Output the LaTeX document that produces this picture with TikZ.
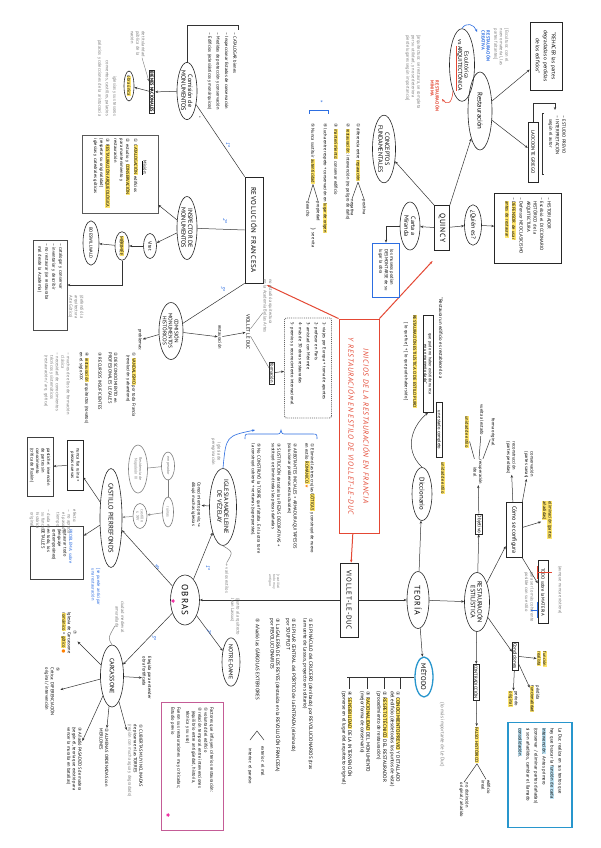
\documentclass[tikz,border=0pt]{standalone}
\usepackage{fontspec}
\setmainfont{PT Sans}
\newfontfamily\cnfont{DejaVu Sans}
\usepackage{xcolor}
\usetikzlibrary{arrows.meta,shapes.geometric}

\definecolor{hly}{RGB}{255,230,110}
\definecolor{hlc}{RGB}{190,228,245}
\definecolor{redt}{RGB}{228,72,52}
\definecolor{bluet}{RGB}{45,110,225}
\definecolor{pinkb}{RGB}{196,92,150}
\definecolor{cyanb}{RGB}{40,150,205}
\definecolor{grayt}{RGB}{125,125,125}

\newcommand{\cnum}[1]{{\cnfont #1}}
\newcommand{\hlt}[1]{{\setlength{\fboxsep}{0.3pt}\colorbox{hly}{#1}}}
\newcommand{\hlc}[1]{{\setlength{\fboxsep}{0.3pt}\colorbox{hlc}{#1}}}
\newcommand{\wide}{\addfontfeature{LetterSpace=10}}

\tikzset{
  ov/.style={draw=black!85, ellipse, line width=0.6pt, align=center, inner sep=0pt, font=\fontsize{6.2}{6.8}\selectfont},
  bx/.style={draw=black!85, line width=0.6pt, align=center, inner sep=1pt, font=\fontsize{5}{6}\selectfont},
  tx/.style={align=left, inner sep=0.5pt, font=\fontsize{4.5}{5.5}\selectfont},
  gr/.style={tx, text=grayt},
  num/.style={text=bluet, font=\fontsize{5.5}{6}\selectfont\itshape},
  ln/.style={line width=0.5pt, draw=black!80},
  ar/.style={ln, ->},
  pstar/.style={star, star points=5, fill=magenta!80, inner sep=0.9pt},
}

\begin{document}
\begin{tikzpicture}[x=1pt,y=-1pt,>={Stealth[length=3pt,width=2.4pt]},every node/.style={rotate=-90}]
  \fill[white] (0,0) rectangle (600,848);
  \useasboundingbox (0,0) rectangle (600,848);

  % titulo central
  \node[draw=redt, line width=0.9pt, text=redt, align=center, minimum width=214, minimum height=40,
    font=\fontsize{7.4}{15}\selectfont\itshape\wide] (title) at (359,426)
    {INICIOS DE LA RESTAURACIÓN EN FRANCIA\\Y RESTAURACIÓN EN ESTILO DE VIOLLET-LE-DUC};
  \node[bx, minimum width=74, minimum height=18, font=\fontsize{7}{8}\selectfont\wide] (vld) at (349,600) {VIOLLET-LE-DUC};
  \node[bx, minimum width=106, minimum height=18, font=\fontsize{7}{8}\selectfont\wide] (revo) at (254,230) {REVOLUCIÓN FRANCESA};
  \node[bx, minimum width=45, minimum height=15, font=\fontsize{7.5}{8}\selectfont\wide] (quin) at (442,228) {QUINCY};
  \draw[redt, line width=1pt, ->] (title) -- (vld);
  \draw[redt, line width=1pt, ->, shorten >=4pt] (title.south west) -- (revo.north east);
  \draw[redt, line width=1pt, ->, shorten >=14pt] (title.north west) -- (quin.east);

  % obras y teoria
  \node[ov, minimum width=50, minimum height=29, font=\fontsize{9}{9}\selectfont\wide] (obras) at (185,600) {OBRAS};
  \node[pstar] (obstar) at (173,601) {};
  \node[ov, minimum width=57, minimum height=22, font=\fontsize{8}{8}\selectfont\wide] (teoria) at (418,600) {TEORÍA};
  \draw[ar] (vld) -- (obras);
  \draw[ar] (vld) -- (teoria);

  % teoria
  \node[ov, minimum width=53, minimum height=20, font=\fontsize{6.8}{7}\selectfont] (dicc) at (422,494) {Diccionario};
  \node[ov, minimum width=55, minimum height=25] (resti) at (477,602) {RESTAURACIÓN\\ESTILÍSTICA};
  \node[ov, draw=cyanb, line width=1.3pt, minimum width=40, minimum height=18, font=\fontsize{6.8}{7}\selectfont] (metodo) at (424,677) {MÉTODO};
  \draw[ar] (teoria) -- (dicc);
  \draw[ar] (teoria) -- (resti);
  \draw[ar] (teoria) -- (metodo);
  \node[gr, font=\fontsize{5}{6}\selectfont] (gmas) at (442,735) {(lo más importante de Le Duc)};

  % definicion del diccionario
  \node[tx, anchor=west, font=\fontsize{4.8}{5.5}\selectfont] (defq) at (441,297) {“Restaurar un edificio es restablecerlo a};
  \node[bx, minimum width=55, font=\fontsize{4.6}{5.2}\selectfont] (defb2) at (439,430) {un estado completo};
  \node[bx, minimum width=97, font=\fontsize{4.2}{4.8}\selectfont] (defb) at (428,364) {que pudo no haber existido nunca\\en un momento dado”};
  \node[tx, anchor=west] (dest) at (415,314) {\hlt{RESTAURACIÓN ESTILÍSTICA O DE ESTILO PURO}};
  \node[tx, anchor=west] (dfue) at (406,322) {[ lo que fue ] + [ lo que pudo haber sido ]};
  \node[tx] (duni) at (443,478) {\hlt{unidad de estilo}};
  \draw[ar] (dicc.west) .. controls (402,448) and (414,424) .. (defb.east);

  % restauracion estilistica
  \node[bx] (obj) at (479,524) {Objetivo};
  \node[tx, align=center] (ideal) at (478,472) {recuperación\\ideal};
  \node[tx] (iuni) at (467,432) {\hlt{unidad de estilo}};
  \node[tx] (ivue) at (482,420) {vuelta al estado};
  \node[tx] (iori) at (493,432) {forma original};
  \draw[ar] (resti) -- (obj);
  \draw[ar] (obj) -- (ideal);
  \draw[ln] (ideal) -- (iuni);
  \draw[ln] (ideal) -- (ivue);
  \draw[ln] (ideal) -- (iori);

  \node[bx, minimum width=55, minimum height=16, font=\fontsize{6}{6}\selectfont] (como) at (514,530) {Cómo se configura};
  \node[tx] (crec) at (511,458) {reconstrucción\\(partes perdidas)};
  \node[tx] (ccon) at (529,465) {conservación\\(partes sanas)};
  \node[tx] (celi) at (547,520) {\hlt{eliminación (partes}\\\hlt{añadidas)}};
  \node[bx, minimum width=63, minimum height=10, font=\fontsize{4.6}{5}\selectfont] (mat) at (543,592) {TODO sobre la MATERIA};
  \node[gr] (gnun) at (560,590) {(aunque nunca existiera)};
  \node[gr] (gcoh) at (529,597) {para ser lo más coherente\\posible con su estilo};
  \draw[ar] (resti) -- (como);
  \draw[ar] (como) -- (crec);
  \draw[ar] (como.north west) -- (ccon);
  \draw[ar] (como) -- (celi);
  \draw[ar] (como.north east) -- (mat);
  \draw[redt, line width=0.7pt] (537,566) -- (537,579) (537,572) -- (552,572);
  \draw[bluet, line width=0.7pt] (537,602) -- (537,618) (537,610) -- (531,610);

  \node[bx] (cond) at (515,656) {Condiciones};
  \node[tx] (cfun) at (542,659) {\hlt{función}\\\hlt{realista}};
  \node[tx] (cper) at (513,699) {período\\\hlt{original}};
  \node[tx] (cpro) at (535,699) {pérdida\\\hlt{funcionalidad}};
  \draw[ar] (resti) -- (cond);
  \draw[ar] (cond) -- (cfun);
  \draw[ar] (cond) -- (cper);
  \draw[ar] (cond) -- (cpro);

  \node[bx, font=\fontsize{4.6}{5}\selectfont] (contr) at (476,682) {CONTRADICCIÓN};
  \node[tx] (falso) at (477,745) {\hlt{FALSO HISTÓRICO}};
  \node[tx] (firr) at (486,787) {edificio\\irreal};
  \node[tx] (fdis) at (464,800) {no distinción\\original / añadido};
  \draw[ar] (resti) -- (contr);
  \draw[ar] (contr) -- (falso);
  \draw[ln] (falso.east) -- (firr.west);
  \draw[ln] (falso.east) -- (fdis.west);

  \node[draw=cyanb, line width=1.3pt, tx, font=\fontsize{4.7}{8}\selectfont, minimum width=105, minimum height=64, text width=94pt] (ledu) at (540,775)
    {La Duc realiza en sus textos que\\hay que buscar la \hlc{función de cada}\\\hlc{intervención}. Antes primero\\(conservar / eliminar partes dañadas)\\si son añadidos, cambiar el llamado\\\hlc{consolidación}.};

  % metodo
  \draw[ln] (metodo.south) -- (347,677);
  \foreach \xx in {400,384,367,349} \draw[ln] (\xx,677) -- (\xx,689);
  \node[tx, anchor=west, font=\fontsize{5}{5.6}\selectfont] (m1) at (395,691) {\cnum{①} \hlt{CONOCIMIENTO PREVIO} Y DETALLADO\\del edificio (desde todos los puntos de vista)};
  \node[tx, anchor=west, font=\fontsize{5}{5.6}\selectfont] (m2) at (382,691) {\cnum{②} \hlt{RESPETO TÉCNICO} DEL RESTAURADOR\\(procedimiento de restauración)};
  \node[tx, anchor=west, font=\fontsize{5}{5.6}\selectfont] (m3) at (365,691) {\cnum{③} \hlt{RACIONALIDAD} DEL MONUMENTO\\(mejor forma de conservarlo)};
  \node[tx, anchor=west, font=\fontsize{5}{5.6}\selectfont] (m4) at (347,691) {\cnum{④} \hlt{SENSIBILIDAD} DE LA INTERVENCIÓN\\(ponerse en el lugar del arquitecto original)};

  % obras
  \node[ov, minimum width=77, minimum height=27] (vez) at (223,507) {IGLESIA MADELEINE\\DE VÉZELAY};
  \node[ov, minimum width=40, minimum height=18, font=\fontsize{5.8}{6}\selectfont] (notre) at (231,662) {NOTRE-DAME};
  \node[ov, minimum width=62, minimum height=23] (carc) at (112,676) {CARCASSONE};
  \node[ov, minimum width=90, minimum height=22, font=\fontsize{6.6}{7}\selectfont] (pierre) at (111,518) {CASTILLO PIERREFONDS};
  \draw[ar] (obras) -- (vez);
  \draw[ar] (obras) -- (notre);
  \draw[ar] (obras) -- (carc);
  \draw[ar] (obras) -- (pierre);
  \node[num] at (208,568) {1º};
  \node[num] at (209,632) {2º};
  \node[num] at (154,638) {3º};
  \node[num] at (157,567) {4º};

  % vezelay
  \node[gr, align=center] (gper) at (216,452) {Iglesia de\\peregrinación};
  \node[tx] (vcon) at (196,505) {Conocimiento previo, \cnum{↪}\\dibujó muchas iglesias};
  \node[gr] (gvar) at (227,578) {\cnum{→} varios estilos};
  \draw[ar] (vez) -- (vcon);
  \draw[grayt, line width=0.5pt] (vez.east) .. controls (233,552) .. (gvar.west);
  \draw[bluet, line width=0.6pt, ->] (vez.west) .. controls (226,436) .. (255,430);
  \draw[bluet, line width=0.6pt] (245,439) .. controls (245,434) .. (250,434) -- (276,434)
    .. controls (280,434) .. (281,430) .. controls (282,434) .. (286,434) -- (312,434) .. controls (317,434) .. (317,439);
  \node[tx, anchor=west] (v1) at (310,443) {\cnum{①} Eliminó las tres crujías \hlt{GÓTICAS} y construyó de nuevo\\en estilo \hlt{ROMÁNICO} {\color{orange}\cnum{★}}};
  \node[tx, anchor=west] (v2) at (292,443) {\cnum{②} ARBOTANTES INICIALES + ARMADURA QUITAPESOS\\(solucionar problemas estructurales)};
  \node[tx, anchor=west] (v3) at (276,443) {\cnum{③} SUSTITUCIÓN de todas las PIEZAS DECORATIVAS +\\sustituyó o eliminó todas las piezas dañadas};
  \node[gr, font=\fontsize{3.6}{4}\selectfont] (gv3) at (274,582) {[reutilizó\\todo muy\\antiguo};
  \node[tx, anchor=west] (v5) at (256,443) {\cnum{⑤} No CONSTRUYÓ la TORRE que faltaba. En la otra torre\\la construyó cubierta + ventanas (superpuestas).};

  % notre-dame
  \node[gr] (glas) at (235,617) {(junto al arquitecto\\Jean Lassus)};
  \node[tx, anchor=west, font=\fontsize{5}{5.6}\selectfont] (nd1) at (308,618) {\cnum{①} El PINÁCULO del CRUCERO (derribado) por REVOLUCIONARIOS (tras\\la muerte de Lassus, proyecto en solitario)};
  \node[tx, anchor=west, font=\fontsize{5}{5.6}\selectfont] (nd2) at (291,618) {\cnum{②} El PILAR CENTRAL del PÓRTICO de la ENTRADA (eliminado)\\por SOUFFLOT};
  \node[tx, anchor=west, font=\fontsize{5}{5.6}\selectfont] (nd3) at (275,618) {\cnum{③} La GALERÍA DE LOS REYES (destruida en la REVOLUCIÓN FRANCESA)\\por REVOLUCIONARIOS};
  \node[tx, anchor=west, font=\fontsize{5}{5.6}\selectfont] (nd5) at (258,618) {\cnum{⑤} Añadió las GÁRGOLAS EXTERIORES};
  \node[tx, anchor=west] (ndex) at (263,746) {exterior: el mal};
  \node[tx, anchor=west] (ndin) at (250,748) {interior: el paraíso};
  \draw[ln] (264,740) -- (257,731) -- (250,740);

  % cuadro rosa
  \node[draw=pinkb, line width=1pt, tx, text width=118pt, minimum width=128, minimum height=62, font=\fontsize{4.5}{6}\selectfont] (pk) at (192,766)
    {Factores que influyen criterios restauración:\\\cnum{①} voluntad del edificio\\\cnum{②} relación temporal entre intervenciones\\\hspace*{4pt}(equilibrio entre antigüedad, historia,\\\hspace*{4pt}técnica y su uso)\\[3pt]Fueron sus restauraciones muy criticadas;\\Estudio previo};
  \node[pstar] (pkstar) at (168,815) {};

  % carcassone
  \node[tx, align=center] (c7) at (69,633) {\cnum{⑦}\\Iglesia de Carcassone\\\hlt{románico} = \hlt{gótico} {\color{orange}\cnum{●}}};
  \node[tx, anchor=west] (c5) at (52,667) {\cnum{⑤}\\Crítica: DIFERENCIACIÓN\\original / intervención};
  \node[tx, anchor=west] (c3) at (74,727) {\cnum{③} Añadió PASADIZOS de madera\\(según él, teoría que existió para\\vencer la muralla en batallas)};
  \node[tx, anchor=west] (c2) at (104,728) {\cnum{②} ALMENAS ORDENADAS con\\MERLONES};
  \node[tx, anchor=west] (c1) at (135,724) {\cnum{①} CUBIERTAS MUY INCLINADAS\\de pizarra en las TORRES\\{\color{grayt}(región con mucha agua y degradado)}};
  \node[tx] (celeg) at (147,678) {Elegida para entender\\obra fortificada};
  \node[gr, align=center] (gciu) at (120,617) {ciudad medieval\\amurallada};
  \draw[ar] (carc) -- (c7);
  \draw[ar] (carc) -- (c5);
  \draw[ar] (carc) -- (c3);
  \draw[ar] (carc) -- (c2);
  \draw[ar] (carc) -- (c1);
  \draw[ar] (carc) -- (celeg);
  \draw[grayt, line width=0.5pt] (gciu) .. controls (108,638) .. (carc.west);

  % pierrefonds
  \node[bx, font=\fontsize{4.5}{5.5}\selectfont, minimum width=50, minimum height=16] (pz1) at (75,465) {nunca fue ruina +\\piezas nuevas};
  \node[draw=black!75, line width=0.6pt, tx, minimum width=59, minimum height=26] (pz2) at (40,467) {pastiche: invención\\de partes sin\\conocimiento\\(crítica de Ruskin)};
  \node[draw=black!75, line width=0.6pt, tx, minimum width=53, minimum height=53, text width=48pt] (pz3) at (57,553) {\textcolor{bluet}{PROBLEMA: sobre}\\restaurar todo\\(lenguaje\\contemporáneo)\\en todo, los\\DETALLES};
  \node[gr] (gefe) at (66,522) {efecto:\\– no aprecia\\\hspace*{3pt}el paso del\\\hspace*{3pt}tiempo};
  \node[gr] (gdud) at (40,521) {– duda en\\\hspace*{3pt}su función\\\hspace*{3pt}histórica\\\hspace*{3pt}original};
  \node[tx, text=bluet] (bant) at (96,587) {[se puede anticipar\\una restauración};
  \node[ov, draw=grayt, text=grayt, font=\fontsize{4}{4.5}\selectfont, minimum width=48, minimum height=19] (g1) at (138,469) {Residencia de\\Napoleón III};
  \node[ov, draw=grayt, text=grayt, font=\fontsize{4}{4.5}\selectfont, minimum width=28, minimum height=13] (g2) at (168,466) {emperador};
  \node[ov, draw=grayt, text=grayt, font=\fontsize{4}{4.5}\selectfont, minimum width=25, minimum height=14] (g3) at (140,516) {castillo\\s. XIV};
  \node[ov, draw=grayt, text=grayt, font=\fontsize{4}{4.5}\selectfont, minimum width=30, minimum height=11] (g4) at (168,512) {ruinas};
  \draw[ar] (pierre) -- (pz1);
  \draw[ar] (pz1) -- (pz2);
  \draw[ar] (pierre) -- (pz3);
  \draw[grayt, line width=0.5pt] (g1) -- (g2);
  \draw[grayt, line width=0.5pt] (g2) -- (g4);
  \draw[grayt, line width=0.5pt, ->] (g4) -- (g3);
  \draw[grayt, line width=0.5pt, ->] (g3) -- (pierre);

  % revolucion francesa
  \node[ov, minimum width=52, minimum height=20] (comi) at (187,91) {Comisión de\\MONUMENTOS};
  \node[ov, minimum width=63, minimum height=20] (insp) at (187,228) {INSPECTOR DE\\MONUMENTOS};
  \node[ov, minimum width=57, minimum height=24, font=\fontsize{5.3}{5.8}\selectfont] (cmh) at (171,331) {COMISIÓN\\MONUMENTOS\\HISTÓRICOS};
  \draw[ln] (revo.south west) -- (comi);
  \draw[ln] (revo.south) -- (insp);
  \draw[ln] (revo.south east) -- (cmh);
  \node[num] at (228,145) {1º};
  \node[num] at (225,221) {2º};
  \node[num] at (223,289) {3º};

  \draw[ln] (comi.west) |- (238,25) -- (238,30);
  \node[tx, anchor=west, font=\fontsize{4.5}{8.3}\selectfont] (clis) at (222,32) {– CATALOGAR bienes\\– Inspeccionar Estados de conservación\\– Medidas de protección y conservación\\– Edificios (eclesiásticos y monárquicos)};
  \node[tx] (cast) at (199,117) {*};
  \node[bx, line width=0.9pt, font=\fontsize{4.5}{5}\selectfont\bfseries] (bn) at (152,92) {BIENES NACIONALES};
  \node[ov, font=\fontsize{4.5}{5}\selectfont, minimum width=30, minimum height=10] (pat) at (129,86) {\hlt{obra única}};
  \node[gr] (gtit) at (138,44) {de titularidad\\pública de la\\nación};
  \node[gr, align=right, anchor=east, font=\fontsize{4.5}{7.5}\selectfont] (gigl) at (107,117) {iglesias y sus tesoros\\conventos, castillos, palacios\\palacios y colecciones de la aristocracia};
  \draw[ar] (comi) -- (bn);
  \draw[ar] (bn) -- (pat);
  \draw[grayt, line width=0.4pt, ->] (gtit) -- (bn);

  \node[draw=black!65, line width=0.6pt, tx, minimum width=78, minimum height=76, text width=70pt, font=\fontsize{4.5}{6}\selectfont] (mis) at (120,174)
    {\hspace*{22pt}\underline{Misión:}\\[2pt]\cnum{①} \hlt{CATALOGACIÓN} edificios\\[2pt]\cnum{②} estudio y \hlt{CONSERVACIÓN}\\para mantenimiento y\\restauración\\[2pt]\cnum{③} \hlt{RESTAURACIÓN ARQUEOLÓGICA}\\(respetar su originalidad)\\iglesias y catedrales góticas};
  \node[ov, minimum width=25, minimum height=13, font=\fontsize{4.8}{5}\selectfont] (vit) at (150,246) {Vitet};
  \node[ov, minimum width=27, minimum height=14, font=\fontsize{4.8}{5}\selectfont] (mer) at (122,246) {\hlt{MÉRIMÉE}};
  \node[ov, minimum width=40, minimum height=16, font=\fontsize{4.5}{5}\selectfont] (boe) at (91,243) {BOESWILLWALD};
  \node[draw=black!70, line width=0.6pt, tx, minimum width=90, minimum height=34, text width=84pt, font=\fontsize{4.5}{7}\selectfont] (mb) at (50,285)
    {– catalogar y conservar\\– inventariar y describir\\– no restaurar (se restauraba\\\hspace*{3pt}mal desde la Academia)};
  \node[gr] (gsac) at (76,307) {(defendió la\\arquitectura\\Arte Gótico)};
  \draw[ar] (insp) -- (mis);
  \draw[ar] (insp) -- (vit);
  \draw[ar] (vit) -- (mer);
  \draw[ar] (mer) -- (boe);
  \draw[ar] (mer) |- (mb);

  \node[tx] (prob) at (140,340) {problemas:};
  \node[tx, anchor=west] (pr1) at (131,352) {\cnum{①} \hlt{VANDALISMO} por toda Francia\\\hspace*{3pt}(revolución y abandono)};
  \node[tx, anchor=west] (pr2) at (113,352) {\cnum{②} DESCONOCIMIENTO en\\PROFESIONALES LEGALES};
  \node[tx, anchor=west] (pr3) at (100,352) {\cnum{③} RECURSOS INSUFICIENTES};
  \node[tx, anchor=west] (pr4) at (84,352) {\cnum{④} \hlt{restauración} arquitectos (novatos)\\en el siglo XIX};
  \node[gr, anchor=west] (pr5) at (57,352) {– muchos de ellos de formación\\\hspace*{3pt}clásica\\– necesidad de conocimientos\\\hspace*{3pt}técnicos y sistemáticos\\\hspace*{3pt}(restauración / arq. gótica)};
  \draw[ar] (cmh) -- (prob);

  \node[tx] (rst) at (220,337) {restauración};
  \node[tx, font=\fontsize{5}{6}\selectfont] (vld2) at (248,332) {VIOLLET LE DUC};
  \node[gr] (gacad) at (268,306) {no estudió arquitectura\\en la Academia Bellas Artes};
  \node[bx, font=\fontsize{4.6}{5}\selectfont] (form) at (272,373) {formación};
  \node[draw=black!60, densely dotted, line width=0.9pt, rounded corners=2pt, tx, minimum width=100, minimum height=47, text width=92pt, font=\fontsize{4.5}{8}\selectfont] (fl) at (308,368)
    {1- viajes por Europa + toma de apuntes\\2- profesor en París\\3- amistad con Mérimée\\4- más de 30 obras restauradas\\5- premios y reconocimiento internacional};
  \draw[ar] (cmh) -- (rst);
  \draw[ar] (rst) -- (vld2);
  \draw[grayt, line width=0.4pt] (vld2) -- (gacad);
  \draw[grayt, line width=0.5pt] (vld2) -- (form);
  \draw[ar] (form) -- (fl);

  % quincy
  \node[ov, minimum width=67, minimum height=23] (conc) at (384,149) {CONCEPTOS\\FUNDAMENTALES};
  \node[ov, minimum width=78, minimum height=24, font=\fontsize{6.8}{7}\selectfont] (rest) at (480,111) {Restauración};
  \node[ov, minimum width=48, minimum height=20] (carta) at (410,226) {Carta a\\Miranda};
  \node[ov, minimum width=40, minimum height=17] (quien) at (473,225) {¿Quién es?};
  \node[bx, align=left, minimum width=70, minimum height=67, text width=62pt, font=\fontsize{4.6}{6.5}\selectfont] (qbox) at (528,228)
    {– HISTORIADOR\\[1pt]– Escribió el DICCIONARIO\\\hspace*{4pt}HISTÓRICO de la\\\hspace*{4pt}ARQUITECTURA\\[1pt]– Defensor NEOCLASICISMO\\[1pt]– \hlt{DEFENSOR de usar}\\\hspace*{4pt}\hlt{antes de restaurar}};
  \node[bx, minimum width=68, minimum height=32, font=\fontsize{5.3}{8}\selectfont] (rehacer) at (546,56) {“REHACER las partes\\degradadas o perdidas\\de los edificios”};
  \node[bx, minimum width=60, minimum height=10, font=\fontsize{4.8}{5}\selectfont] (lao) at (533,152) {LAOCOONTE GRIEGO};
  \node[tx, anchor=west, font=\fontsize{4.6}{6.5}\selectfont] (laol) at (557,115) {– ESTUDIO PREVIO\\– INTERPRETACIÓN\\\hspace*{4pt}según el autor};
  \node[ov, minimum width=70, minimum height=25, font=\fontsize{5.8}{6.5}\selectfont] (esc) at (462,65) {Escultórica\\vs {\color{redt}\underline{{\color{black}ARQUITECTÓNICA}}}};
  \node[tx, text=bluet, font=\fontsize{4.5}{5}\selectfont\bfseries] (rcre) at (486,46) {RESTAURACIÓN\\CREATIVA};
  \node[tx, text=redt, font=\fontsize{4.5}{5}\selectfont\bfseries] (rmin) at (435,96) {RESTAURACIÓN\\MÍNIMA};
  \node[gr] (gesc) at (501,47) {[Escultura: con el\\nuevo material, las\\partes faltantes]};
  \node[gr] (garq) at (413,72) {[arquitectura: se restaura, se completa\\por su utilidad, y no se deteriora\\pierde lugares según importancia]};
  \node[draw=bluet, line width=0.7pt, tx, minimum width=54, minimum height=27] (museo) at (386,270) {los museos podían\\DESMONTARSE de su\\lugar la obra};
  \draw[ar] (quin.south west) -- (conc);
  \draw[ar] (quin.north west) -- (rest);
  \draw[ar] (quin) -- (carta);
  \draw[ar] (quin) -- (quien);
  \draw[ar] (quien) -- (qbox);
  \draw[ar] (rest) -- (rehacer);
  \draw[ar] (rest) -- (lao);
  \draw[ar] (lao) |- (555,103) -- (555,110);
  \draw[ln] (544,113) -- (542,113) -- (542,174) -- (544,174);
  \draw[ar] (carta) -| (museo);
  \draw[bluet, line width=0.6pt, ->] (esc.west) .. controls (466,22) and (474,24) .. (477,32);
  \draw[redt, line width=0.6pt, ->] (esc.south east) .. controls (452,106) and (446,104) .. (442,99);

  % conceptos fundamentales
  \node[tx, anchor=west] (k1) at (358,123) {\cnum{①} diferencia entre \hlt{reparación}};
  \node[tx, anchor=west] (k1a) at (364,199) {positiva};
  \node[tx, anchor=west] (k1b) at (352,199) {negativa};
  \draw[ln] (k1.east) -- (k1a.west);
  \draw[ln] (k1.east) -- (k1b.west);
  \node[tx, anchor=west] (k2) at (348,123) {\cnum{②} \hlt{restauración}: intervención (no peligro de daño)};
  \node[tx, anchor=west] (k3) at (336,123) {\cnum{③} \hlt{mantenimiento}: conservar edificio};
  \node[tx, anchor=west] (k4) at (325,123) {\cnum{④} lucha entre respeto + conservación en \hlt{lugar de origen}};
  \node[tx, anchor=west] (k5) at (313,123) {\cnum{⑤} Nunca sustituir \hlt{autenticidad}};
  \node[tx, anchor=west] (k5a) at (318,201) {propiedad};
  \node[tx, anchor=west] (k5b) at (308,201) {derecho};
  \node[tx, anchor=west] (k5c) at (313,227) {$\}$ se evita};
  \draw[ln] (k5.east) -- (k5a.west);
  \draw[ln] (k5.east) -- (k5b.west);
  \draw[bluet, line width=0.6pt] (309,114) -- (309,110) -- (328,110) -- (328,114);
  \node[tx, text=bluet, font=\fontsize{7}{7}\selectfont] (kst) at (320,102) {*};
\end{tikzpicture}
\end{document}
